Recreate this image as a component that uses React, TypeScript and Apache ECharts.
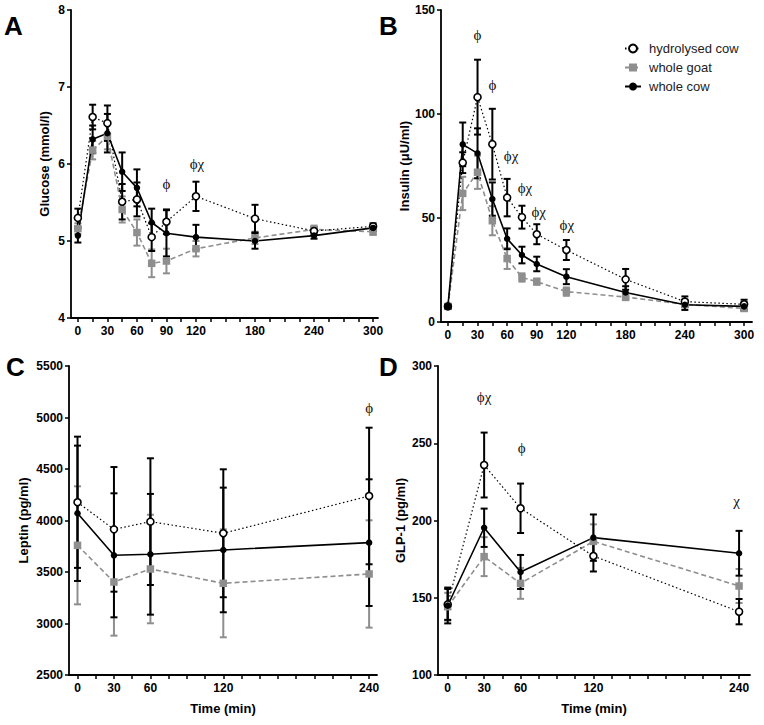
import React, { useEffect, useRef } from 'react';
import * as echarts from 'echarts';

// ---------- data ----------
const longTimes = [0, 15, 30, 45, 60, 75, 90, 120, 180, 240, 300];
const shortTimes = [0, 30, 60, 120, 240];

const longTicks = [0, 15, 30, 45, 60, 75, 90, 105, 120, 135, 150, 165, 180, 195, 210, 225, 240, 255, 270, 285, 300];
const longTickLabels = [0, 30, 60, 90, 120, 180, 240, 300];
const shortTicks = [0, 15, 30, 45, 60, 75, 90, 105, 120, 135, 150, 165, 180, 195, 210, 225, 240];
const shortTickLabels = [0, 30, 60, 120, 240];

// A: glucose (mmol/l)
const gluHydro = [5.30, 6.61, 6.53, 5.51, 5.54, 5.05, 5.25, 5.58, 5.29, 5.13, 5.19];
const gluHydroSE = [0.12, 0.16, 0.23, 0.23, 0.22, 0.18, 0.16, 0.19, 0.18, 0.05, 0.04];
const gluGoat = [5.16, 6.18, 6.36, 5.41, 5.11, 4.71, 4.74, 4.90, 5.04, 5.15, 5.12];
const gluGoatSE = [0.07, 0.12, 0.17, 0.17, 0.17, 0.18, 0.16, 0.10, 0.08, 0.05, 0.04];
const gluCow = [5.07, 6.32, 6.40, 5.90, 5.69, 5.24, 5.10, 5.05, 5.00, 5.07, 5.17];
const gluCowSE = [0.09, 0.18, 0.25, 0.25, 0.24, 0.18, 0.30, 0.16, 0.10, 0.04, 0.04];
const gluNotes = [[90, 5.74, 'ϕ'], [121, 6.0, 'ϕχ']];

// B: insulin (µU/ml)
const insHydro = [7.5, 76.6, 108.1, 85.5, 59.8, 50.4, 42.2, 34.6, 20.5, 9.8, 8.5];
const insHydroSE = [1, 5, 18, 17, 9, 5.5, 4.8, 4.8, 5, 2.5, 2.2];
const insGoat = [7.5, 61.8, 72.0, 48.7, 30.5, 21.4, 19.4, 14.6, 12.0, 8.5, 6.5];
const insGoatSE = [1, 8, 8, 7, 5, 2, 1.5, 2, 1.5, 1.5, 1.2];
const insCow = [7.5, 85.4, 81.1, 59.1, 40.0, 32.2, 27.9, 21.8, 14.2, 8.3, 7.5];
const insCowSE = [1, 10.5, 12, 8, 5, 4, 3.5, 3.6, 3, 2.5, 2];
const insNotes = [[30, 138, 'ϕ'], [45, 114, 'ϕ'], [64, 79.6, 'ϕχ'], [78, 64.4, 'ϕχ'], [92, 53, 'ϕχ'], [120.5, 46.7, 'ϕχ']];

// C: leptin (pg/ml)
const lepHydro = [4177, 3914, 3989, 3876, 4238];
const lepHydroSE = [637, 605, 615, 621, 663];
const lepGoat = [3759, 3403, 3529, 3390, 3481];
const lepGoatSE = [573, 521, 527, 524, 521];
const lepCow = [4070, 3662, 3672, 3714, 3785];
const lepCowSE = [657, 602, 586, 605, 615];
const lepNotes = [[240, 5089, 'ϕ']];

// D: GLP-1 (pg/ml)
const glpHydro = [145.7, 235.9, 207.9, 177.0, 141.0];
const glpHydroSE = [10, 21, 16, 10, 8.2];
const glpGoat = [144.2, 176.6, 159.3, 186.5, 157.6];
const glpGoatSE = [9, 12.6, 10, 11, 11];
const glpCow = [145.0, 195.3, 166.7, 188.9, 178.8];
const glpCowSE = [11.6, 12.4, 11, 15, 14.5];
const glpNotes = [[30, 280, 'ϕχ'], [61, 246.7, 'ϕ'], [238, 212.8, 'χ']];

const seriesNames = ['hydrolysed cow', 'whole goat', 'whole cow'];

// ---------- styles ----------
const FONT = "'Liberation Sans', Arial, Helvetica, sans-serif";
const SERIF = "'Liberation Serif', 'DejaVu Serif', serif";
const GREY = '#8e8e8e';

function errRender(color: string) {
  return (params: any, api: any) => {
    const x = api.value(0);
    const y = api.value(1);
    const e = api.value(2);
    const hi = api.coord([x, y + e]);
    const lo = api.coord([x, y - e]);
    const half = 3.5;
    const style = { stroke: color, lineWidth: 2 };
    return {
      type: 'group',
      children: [
        { type: 'line', shape: { x1: hi[0], y1: hi[1], x2: lo[0], y2: lo[1] }, style },
        { type: 'line', shape: { x1: hi[0] - half, y1: hi[1], x2: hi[0] + half, y2: hi[1] }, style },
        { type: 'line', shape: { x1: lo[0] - half, y1: lo[1], x2: lo[0] + half, y2: lo[1] }, style },
      ],
    };
  };
}

function errSeries(p: number, name: string, times: number[], vals: number[], se: number[], color: string) {
  return {
    type: 'custom',
    name: name + ' SEM',
    xAxisIndex: p,
    yAxisIndex: p,
    z: 2,
    silent: true,
    renderItem: errRender(color),
    encode: { x: 0, y: 1 },
    data: times.map((t, i) => [t, vals[i], se[i]]),
  };
}

function lineSeries(p: number, kind: number, times: number[], vals: number[]) {
  const base: any = {
    type: 'line',
    name: seriesNames[kind],
    xAxisIndex: p,
    yAxisIndex: p,
    z: 3,
    data: times.map((t, i) => [t, vals[i]]),
  };
  if (kind === 0) {
    base.symbol = 'circle';
    base.symbolSize = 7;
    base.lineStyle = { color: '#000', width: 1.2, type: [1.5, 2.5] };
    base.itemStyle = { color: '#fff', borderColor: '#000', borderWidth: 1.6 };
  } else if (kind === 1) {
    base.symbol = 'rect';
    base.symbolSize = 7.5;
    base.lineStyle = { color: GREY, width: 1.6, type: [5, 3] };
    base.itemStyle = { color: GREY };
  } else {
    base.symbol = 'circle';
    base.symbolSize = 6.5;
    base.lineStyle = { color: '#000', width: 1.6 };
    base.itemStyle = { color: '#000' };
  }
  return base;
}

function noteSeries(p: number, notes: any[]) {
  return {
    type: 'custom',
    name: 'notes' + p,
    xAxisIndex: p,
    yAxisIndex: p,
    silent: true,
    z: 4,
    encode: { x: 0, y: 1 },
    data: notes.map((n) => [n[0], n[1]]),
    renderItem: (params: any, api: any) => {
      const pt = api.coord([api.value(0), api.value(1)]);
      return {
        type: 'text',
        x: pt[0],
        y: pt[1],
        style: {
          text: notes[params.dataIndex][2],
          fill: '#111',
          fontFamily: SERIF,
          fontSize: 15,
          align: 'center',
          verticalAlign: 'middle',
        },
      };
    },
  };
}

function panel(p: number, times: number[], h: number[], hs: number[], g: number[], gs: number[], c: number[], cs: number[], notes: any[]) {
  return [
    errSeries(p, 'whole goat', times, g, gs, GREY),
    errSeries(p, 'hydrolysed cow', times, h, hs, '#000'),
    errSeries(p, 'whole cow', times, c, cs, '#000'),
    lineSeries(p, 1, times, g),
    lineSeries(p, 0, times, h),
    lineSeries(p, 2, times, c),
    noteSeries(p, notes),
  ];
}

const axisNameStyle = { fontFamily: FONT, fontWeight: 'bold', fontSize: 13, color: '#000' };
const axisLabelStyle = { fontFamily: FONT, fontWeight: 'bold', fontSize: 12, color: '#000' };
const axisLine = { show: true, onZero: false, lineStyle: { color: '#000', width: 1.8 } };

function xAxis(grid: number, min: number, max: number, ticks: number[], labels: number[], name: string) {
  return {
    type: 'value',
    gridIndex: grid,
    min,
    max,
    name,
    nameLocation: 'middle',
    nameGap: 27,
    nameTextStyle: axisNameStyle,
    axisLine,
    axisTick: { show: true, length: 4, lineStyle: { color: '#000', width: 1.5 }, customValues: ticks },
    axisLabel: { ...axisLabelStyle, margin: 7, customValues: labels, formatter: (v: number) => String(v) },
    splitLine: { show: false },
  };
}

function yAxis(grid: number, min: number, max: number, interval: number, name: string, gap: number) {
  return {
    type: 'value',
    gridIndex: grid,
    min,
    max,
    interval,
    name,
    nameLocation: 'middle',
    nameGap: gap,
    nameTextStyle: axisNameStyle,
    axisLine,
    axisTick: { show: true, length: 4, lineStyle: { color: '#000', width: 1.5 } },
    axisLabel: { ...axisLabelStyle, margin: 6, formatter: (v: number) => String(v) },
    splitLine: { show: false },
  };
}

function letter(t: string, left: number, top: number) {
  return {
    type: 'text',
    left,
    top,
    style: { text: t, fontFamily: FONT, fontWeight: 'bold', fontSize: 26, fill: '#000' },
  };
}

export default function App() {
  const ref = useRef<HTMLDivElement>(null);
  useEffect(() => {
    if (!ref.current) return;
    const chart = echarts.init(ref.current, undefined, { renderer: 'svg' });
    const option: any = {
      animation: false,
      backgroundColor: '#fff',
      grid: [
        { left: 71, top: 10, width: 307, height: 308 },
        { left: 441, top: 10, width: 311, height: 312 },
        { left: 69, top: 366, width: 308, height: 309 },
        { left: 438, top: 366, width: 312, height: 309 },
      ],
      xAxis: [
        xAxis(0, -7, 305, longTicks, longTickLabels, ''),
        xAxis(1, -7, 308, longTicks, longTickLabels, ''),
        xAxis(2, -7, 246.5, shortTicks, shortTickLabels, 'Time (min)'),
        xAxis(3, -8, 249, shortTicks, shortTickLabels, 'Time (min)'),
      ],
      yAxis: [
        yAxis(0, 4, 8, 1, 'Glucose (mmol/l)', 20),
        yAxis(1, 0, 150, 50, 'Insulin (μU/ml)', 22),
        yAxis(2, 2500, 5500, 500, 'Leptin (pg/ml)', 39),
        yAxis(3, 100, 300, 50, 'GLP-1 (pg/ml)', 31),
      ],
      legend: {
        data: seriesNames,
        orient: 'vertical',
        left: 619,
        top: 37,
        itemWidth: 16,
        itemHeight: 10,
        itemGap: 6,
        selectedMode: false,
        textStyle: { fontFamily: FONT, fontSize: 13, color: '#222', padding: [0, 0, 0, 3] },
      },
      graphic: [letter('A', 4, 13), letter('B', 379, 13), letter('C', 6, 354), letter('D', 379, 354)],
      series: [
        ...panel(0, longTimes, gluHydro, gluHydroSE, gluGoat, gluGoatSE, gluCow, gluCowSE, gluNotes),
        ...panel(1, longTimes, insHydro, insHydroSE, insGoat, insGoatSE, insCow, insCowSE, insNotes),
        ...panel(2, shortTimes, lepHydro, lepHydroSE, lepGoat, lepGoatSE, lepCow, lepCowSE, lepNotes),
        ...panel(3, shortTimes, glpHydro, glpHydroSE, glpGoat, glpGoatSE, glpCow, glpCowSE, glpNotes),
      ],
    };
    chart.setOption(option);
    return () => chart.dispose();
  }, []);
  return <div ref={ref} style={{ position: 'absolute', left: 0, top: 0, width: 764, height: 725 }} />;
}
